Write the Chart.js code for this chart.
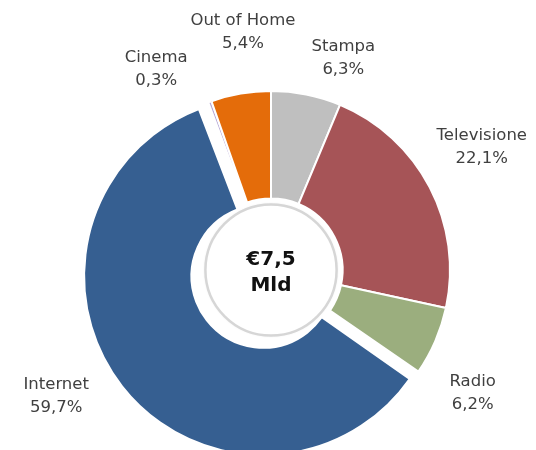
<!DOCTYPE html>
<html>
<head>
<meta charset="utf-8">
<script src="https://cdn.jsdelivr.net/npm/chart.js@4"></script>
<style>
  html, body { margin: 0; padding: 0; background: #fff; overflow: hidden; }
  .wrap { position: relative; width: 536px; height: 460px; }
</style>
</head>
<body>
<div class="wrap"><canvas id="mix"></canvas></div>
<script>
/* ── Data ── */
const categories = ['Stampa', 'Televisione', 'Radio', 'Internet', 'Cinema', 'Out of Home'];
const shares     = [6.3, 22.1, 6.2, 59.7, 0.3, 5.4];
const totalLabel = ['€7,5', 'Mld'];

/* ── Style ── */
const SLICE_COLORS = ['#bfbfbf', '#a65457', '#9bae7e', '#365f91', '#b7a9d8', '#e46c0a'];
// Chart.js moves an arc by offset/4, so 40 -> ~10px pull-out
const SLICE_OFFSET = [0, 0, 0, 40, 0, 0];
// label placement: angle nudge (deg) and distance from the centre (px)
const LABEL_LAYOUT = [
  { da: 7.5,  r: 224 },
  { da: -2.7, r: 244 },
  { da: 7.9,  r: 236 },
  { da: 7.6,  r: 249 },
  { da: -9.7, r: 232 },
  { da: 3.0,  r: 240 },
];
const FONT = "'DejaVu Sans', sans-serif";

const fmt = v => v.toFixed(1).replace('.', ',') + '%';

/* ── Plugins ── */
// keep exploded slice at the same ring size (Chart.js also grows it by offset/4)
const keepRing = {
  id: 'keepRing',
  afterDatasetsUpdate(chart) {
    chart.getDatasetMeta(0).data.forEach((arc, i) => {
      const grow = SLICE_OFFSET[i] / 4;
      if (!grow) return;
      arc.outerRadius -= grow;
      arc.innerRadius -= grow;
    });
  }
};

const centreDisc = {
  id: 'centreDisc',
  afterDatasetsDraw(chart) {
    const arc = chart.getDatasetMeta(0).data[0];
    if (!arc) return;
    const { x, y, innerRadius } = arc.getProps(['x', 'y', 'innerRadius'], true);
    const ctx = chart.ctx;
    ctx.save();
    ctx.beginPath();
    ctx.arc(x, y, innerRadius - 6, 0, Math.PI * 2);
    ctx.fillStyle = '#ffffff';
    ctx.shadowColor = 'rgba(0,0,0,0.15)';
    ctx.shadowBlur = 3;
    ctx.fill();
    ctx.shadowColor = 'transparent';
    ctx.lineWidth = 2.5;
    ctx.strokeStyle = '#d6d6d6';
    ctx.stroke();
    ctx.fillStyle = '#111111';
    ctx.font = `bold 20px ${FONT}`;
    ctx.textAlign = 'center';
    ctx.textBaseline = 'middle';
    ctx.fillText(totalLabel[0], x, y - 10);
    ctx.fillText(totalLabel[1], x, y + 16);
    ctx.restore();
  }
};

const outsideLabels = {
  id: 'outsideLabels',
  afterDatasetsDraw(chart) {
    const meta = chart.getDatasetMeta(0);
    const ctx = chart.ctx;
    ctx.save();
    ctx.fillStyle = '#404040';
    ctx.font = `16.5px ${FONT}`;
    ctx.textAlign = 'center';
    ctx.textBaseline = 'middle';
    meta.data.forEach((arc, i) => {
      const p = arc.getProps(['x', 'y', 'startAngle', 'endAngle'], true);
      const lay = LABEL_LAYOUT[i];
      const a = (p.startAngle + p.endAngle) / 2 + lay.da * Math.PI / 180;
      const lx = p.x + Math.cos(a) * lay.r;
      const ly = p.y + Math.sin(a) * lay.r;
      ctx.fillText(categories[i], lx, ly - 11);
      ctx.fillText(fmt(shares[i]), lx, ly + 12);
    });
    ctx.restore();
  }
};

new Chart(document.getElementById('mix'), {
  type: 'doughnut',
  data: {
    labels: categories,
    datasets: [{
      data: shares,
      backgroundColor: SLICE_COLORS,
      borderColor: '#ffffff',
      borderWidth: 2,
      offset: SLICE_OFFSET,
      hoverOffset: 0,
      hoverBorderWidth: 0,
    }]
  },
  options: {
    responsive: true, maintainAspectRatio: false,
    animation: false,
    events: [],
    radius: 179,
    cutout: '40%',
    layout: { padding: { left: 86, right: 80, top: 85, bottom: 5 } },
    plugins: { legend: { display: false }, tooltip: { enabled: false } },
  },
  plugins: [keepRing, centreDisc, outsideLabels]
});
</script>
</body>
</html>
